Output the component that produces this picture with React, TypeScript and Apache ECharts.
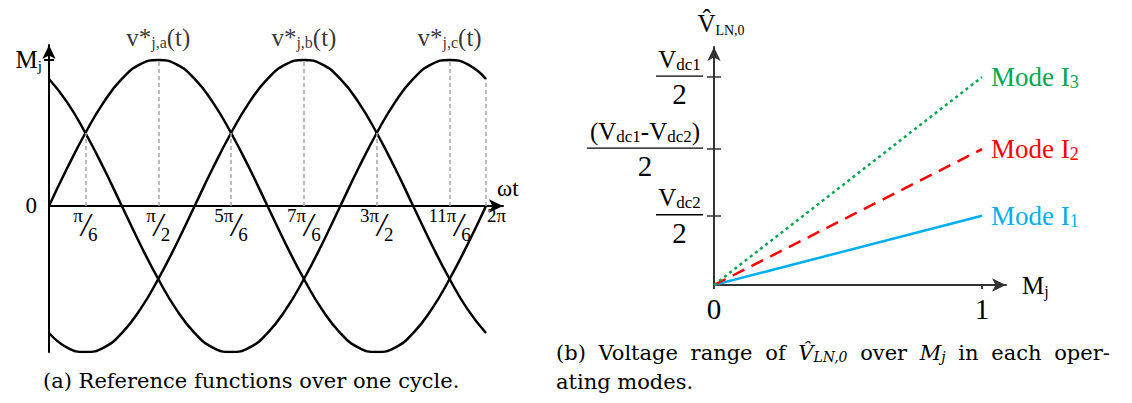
import { useEffect, useRef } from "react";
import * as echarts from "echarts";

const SERIF = "Liberation Serif";
const CAPTION = "DejaVu Serif";

// (a) Reference functions over one cycle, sampled every 15 degrees
const angleDeg = [0, 15, 30, 45, 60, 75, 90, 105, 120, 135, 150, 165, 180, 195, 210, 225, 240, 255, 270, 285, 300, 315, 330, 345, 360];
const refA = [0, 0.26, 0.5, 0.71, 0.87, 0.97, 1, 0.97, 0.87, 0.71, 0.5, 0.26, 0, -0.26, -0.5, -0.71, -0.87, -0.97, -1, -0.97, -0.87, -0.71, -0.5, -0.26, 0];
const refB = [-0.87, -0.97, -1, -0.97, -0.87, -0.71, -0.5, -0.26, 0, 0.26, 0.5, 0.71, 0.87, 0.97, 1, 0.97, 0.87, 0.71, 0.5, 0.26, 0, -0.26, -0.5, -0.71, -0.87];
const refC = [0.87, 0.71, 0.5, 0.26, 0, -0.26, -0.5, -0.71, -0.87, -0.97, -1, -0.97, -0.87, -0.71, -0.5, -0.26, 0, 0.26, 0.5, 0.71, 0.87, 0.97, 1, 0.97, 0.87];

// peaks of each phase and their subscripts
const peakAngles = [90, 210, 330];
const phaseSubs = ["j,a", "j,b", "j,c"];

// dashed guides: angle and the height they reach
const guideAngles = [30, 90, 150, 210, 270, 330, 360];
const guideTops = [0.5, 1, 0.5, 1, 0.5, 1, 0.87];

// angle tick labels written as slanted fractions, plus the full-cycle label
const fractionAngles = [30, 90, 150, 210, 270, 330];
const angleTickNum = ["π", "π", "5π", "7π", "3π", "11π"];
const angleTickDen = ["6", "2", "6", "6", "2", "6"];
const cycleAngle = 360;
const cycleLabel = "2π";

// (b) peak line-to-neutral voltage vs modulation index
const modulation = [0, 1];
const modeI1 = [0, 1];
const modeI2 = [0, 1.96];
const modeI3 = [0, 3];
const modeNames = ["1", "2", "3"];
const modeColors = ["#00aeef", "#ff0000", "#00a651"];
const voltageTicks = [1, 1.96, 3];
const voltageTickLabels = [
  "{v|V}{sub|dc2}\n{bar| }\n{d|2}",
  "{v|(V}{sub|dc1}{v|-V}{sub|dc2}{v|)}\n{barW| }\n{d|2}",
  "{v|V}{sub|dc1}\n{bar| }\n{d|2}",
];

const t = (size: number, extra: Record<string, unknown> = {}) => ({
  fontFamily: SERIF,
  fontSize: size,
  color: "#000",
  ...extra,
});

export default function App() {
  const ref = useRef<HTMLDivElement>(null);

  useEffect(() => {
    if (!ref.current) return;
    const chart = echarts.init(ref.current, undefined, { renderer: "svg" });

    const leftLine = { color: "#000", width: 2 };
    const rightLine = { color: "#333", width: 2 };

    const refSeries = [refA, refB, refC].map((vals, k) => ({
      type: "line",
      xAxisIndex: 0,
      yAxisIndex: 0,
      data: angleDeg.map((a, i) => [a, vals[i]]),
      smooth: 0.5,
      showSymbol: false,
      silent: true,
      z: 3,
      lineStyle: { color: "#000", width: 2.5 },
      markLine:
        k === 0
          ? {
              silent: true,
              symbol: "none",
              label: { show: false },
              lineStyle: { type: [4, 3], color: "#a6a6a6", width: 1.5 },
              data: guideAngles.map((a, i) => [
                { coord: [a, 0] },
                { coord: [a, guideTops[i]] },
              ]),
            }
          : undefined,
    }));

    const modeSeries = [modeI1, modeI2, modeI3].map((vals, k) => ({
      type: "line",
      xAxisIndex: 1,
      yAxisIndex: 2,
      data: modulation.map((m, i) => [m, vals[i]]),
      showSymbol: false,
      silent: true,
      lineStyle: {
        color: modeColors[k],
        width: 2.5,
        type: k === 0 ? "solid" : k === 1 ? [13, 8] : [3, 3.5],
      },
      endLabel: {
        show: true,
        distance: 9,
        formatter: `{m|Mode I}{s|${modeNames[k]}}`,
        rich: {
          m: t(27, { color: modeColors[k] }),
          s: t(18, { color: modeColors[k], padding: [10, 0, 0, 0] }),
        },
      },
    }));

    const fracTick = {
      n: t(19, { align: "center", padding: [0, 0, 19, 0], lineHeight: 36 }),
      sl: t(33, { align: "center", width: 5, lineHeight: 36, fontStyle: "italic" }),
      d: t(19, { align: "center", padding: [19, 0, 0, 0], lineHeight: 36 }),
    };

    const voltRich = {
      v: t(25, { align: "center", lineHeight: 30 }),
      sub: t(17, { align: "center", padding: [10, 0, 0, 0], lineHeight: 30 }),
      bar: { align: "center", width: 47, height: 1.4, backgroundColor: "#000", lineHeight: 4, fontSize: 2 },
      barW: { align: "center", width: 116, height: 1.4, backgroundColor: "#000", lineHeight: 4, fontSize: 2 },
      d: t(29, { align: "center", lineHeight: 32 }),
    };

    const captionSpace = { fontFamily: CAPTION, fontSize: 21, fill: "#000", padding: [0, 3, 0, 3] };
    const captionB = "(b) Voltage range of {i|V̂}{is|LN,0} over {i|M}{is|j} in each oper-".replace(
      / /g,
      "{g| }"
    );

    // shared extent of the angle axis; it sits on the zero level, 146 px above the grid bottom
    const angleAxisBase = {
      type: "value",
      gridIndex: 0,
      position: "bottom",
      min: 0,
      max: 374,
      offset: -146,
      axisTick: { show: false },
      splitLine: { show: false },
    };

    const option = {
      animation: false,
      textStyle: { fontFamily: SERIF },
      grid: [
        { left: 49, top: 45, width: 454, height: 307, outerBoundsMode: "none" },
        { left: 714, top: 47, width: 292, height: 238, outerBoundsMode: "none" },
      ],
      xAxis: [
        {
          ...angleAxisBase,
          axisLine: { onZero: false, lineStyle: leftLine, symbol: ["none", "arrow"], symbolSize: [10, 14] },
          axisLabel: {
            customValues: fractionAngles,
            margin: 1,
            showMinLabel: true,
            showMaxLabel: true,
            formatter: (v: number) => {
              const i = fractionAngles.indexOf(v);
              return i < 0 ? "" : `{n|${angleTickNum[i]}}{sl|/}{d|${angleTickDen[i]}}`;
            },
            rich: fracTick,
          },
          name: "ωt",
          nameLocation: "end",
          nameGap: -6,
          nameMoveOverlap: false,
          nameTextStyle: t(23, { align: "left", verticalAlign: "bottom", padding: [0, 0, 6, 0] }),
        },
        {
          type: "value",
          gridIndex: 1,
          min: 0,
          max: 1.0896,
          axisLine: { onZero: true, lineStyle: rightLine, symbol: ["none", "arrow"], symbolSize: [10, 14] },
          axisTick: { customValues: [0, 1], length: 4, lineStyle: { color: "#333", width: 1.5 } },
          splitLine: { show: false },
          axisLabel: { customValues: modulation, margin: 9, ...t(29) },
          name: "{m|M}{s|j}",
          nameLocation: "end",
          nameGap: 16,
          nameMoveOverlap: false,
          nameTextStyle: {
            rich: { m: t(25), s: t(16, { padding: [12, 0, 0, 0] }) },
          },
        },
        {
          type: "value",
          gridIndex: 1,
          min: 0,
          max: 1.0896,
          axisLine: { show: false },
          axisTick: { customValues: [0, 1], inside: true, length: 4, lineStyle: { color: "#333", width: 1.5 } },
          axisLabel: { show: false },
          splitLine: { show: false },
        },
        {
          // full-cycle label, set just right of its tick
          ...angleAxisBase,
          axisLine: { show: false },
          axisLabel: {
            customValues: [cycleAngle],
            margin: 1,
            align: "left",
            showMinLabel: true,
            showMaxLabel: true,
            formatter: () => `{w|${cycleLabel}}`,
            rich: { w: t(19, { padding: [0, 0, 19, 1], lineHeight: 36 }) },
          },
        },
      ],
      yAxis: [
        {
          type: "value",
          gridIndex: 0,
          position: "left",
          min: -1,
          max: 1.1027,
          axisLine: { onZero: false, lineStyle: leftLine, symbol: ["none", "arrow"], symbolSize: [10, 14] },
          axisTick: { customValues: [1], length: 5, lineStyle: { color: "#000", width: 2 } },
          splitLine: { show: false },
          axisLabel: {
            customValues: [0, 1],
            margin: 7,
            formatter: (v: number) => (v === 0 ? "{z|0}" : "{m|M}{s|j}"),
            rich: {
              z: t(23, { padding: [0, 5, 0, 0] }),
              m: t(25),
              s: t(15, { padding: [12, 0, 0, 0] }),
            },
          },
        },
        {
          type: "value",
          gridIndex: 0,
          position: "left",
          min: -1,
          max: 1.1027,
          axisLine: { show: false },
          axisTick: { customValues: [1], inside: true, length: 5, lineStyle: { color: "#000", width: 2 } },
          axisLabel: { show: false },
          splitLine: { show: false },
        },
        {
          type: "value",
          gridIndex: 1,
          position: "left",
          min: 0,
          max: 3.434,
          axisLine: { onZero: true, lineStyle: rightLine, symbol: ["none", "arrow"], symbolSize: [10, 14] },
          axisTick: { customValues: voltageTicks, length: 7, lineStyle: { color: "#333", width: 1.5 } },
          splitLine: { show: false },
          axisLabel: {
            customValues: voltageTicks,
            margin: 11,
            formatter: (v: number) => {
              const i = voltageTicks.indexOf(v);
              return i < 0 ? "" : voltageTickLabels[i];
            },
            rich: voltRich,
          },
          name: "{v|V̂}{s|LN,0}",
          nameLocation: "end",
          nameGap: 10,
          nameMoveOverlap: false,
          nameTextStyle: {
            padding: [0, 0, 0, 14],
            rich: { v: t(25), s: t(14, { padding: [14, 0, 0, 0] }) },
          },
        },
        {
          type: "value",
          gridIndex: 1,
          position: "left",
          min: 0,
          max: 3.434,
          axisLine: { show: false },
          axisTick: { customValues: voltageTicks, inside: true, length: 7, lineStyle: { color: "#333", width: 1.5 } },
          axisLabel: { show: false },
          splitLine: { show: false },
        },
      ],
      series: [
        ...refSeries,
        {
          type: "scatter",
          xAxisIndex: 0,
          yAxisIndex: 0,
          data: peakAngles.map((a) => [a, 1]),
          symbolSize: 0,
          silent: true,
          label: {
            show: true,
            position: "top",
            distance: 9,
            color: "#000",
            formatter: (p: { dataIndex: number }) => `{m|v*}{s|${phaseSubs[p.dataIndex]}}{m|(t)}`,
            rich: {
              m: t(25),
              s: t(16, { padding: [11, 0, 0, 0] }),
            },
          },
        },
        ...modeSeries,
      ],
      graphic: [
        {
          type: "text",
          left: 43,
          top: 370,
          style: { text: "(a) Reference functions over one cycle.", fontFamily: CAPTION, fontSize: 21, fill: "#000" },
        },
        {
          type: "text",
          left: 556,
          top: 342,
          style: {
            text: captionB,
            fontFamily: CAPTION,
            fontSize: 21,
            fill: "#000",
            rich: {
              g: captionSpace,
              i: { fontFamily: CAPTION, fontSize: 21, fontStyle: "italic", fill: "#000" },
              is: { fontFamily: CAPTION, fontSize: 14, fontStyle: "italic", fill: "#000", padding: [9, 0, 0, 0] },
            },
          },
        },
        {
          type: "text",
          left: 556,
          top: 371,
          style: { text: "ating modes.", fontFamily: CAPTION, fontSize: 21, fill: "#000" },
        },
      ],
    };

    chart.setOption(option as echarts.EChartsOption);
    return () => chart.dispose();
  }, []);

  return (
    <div
      ref={ref}
      style={{ position: "fixed", left: 0, top: 0, width: 1132, height: 403, background: "#fff" }}
    />
  );
}
